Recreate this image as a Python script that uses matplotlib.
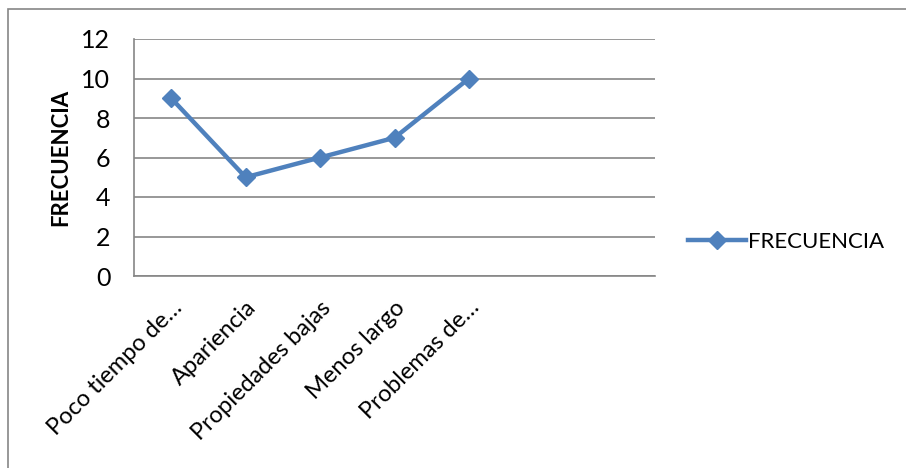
import numpy as np
import matplotlib.pyplot as plt
from matplotlib.patches import Rectangle

plt.rcParams['font.family'] = ['Lato', 'DejaVu Sans']

# Category labels (last two slots are empty in the source sheet)
categorias = ['Poco tiempo de…', 'Apariencia', 'Propiedades bajas',
              'Menos largo', 'Problemas de…', '', '']
frecuencia = [9, 5, 6, 7, 10, np.nan, np.nan]
y_ticks = [0, 2, 4, 6, 8, 10, 12]

azul = '#4F81BD'
gris = '#868686'

fig = plt.figure(figsize=(9.06, 4.68), dpi=100)
ax = fig.add_axes([134 / 906, 1 - 276 / 468, (655 - 134) / 906, (276 - 39) / 468])

x = np.arange(len(categorias))
ax.plot(x, frecuencia, color=azul, lw=3.2, marker='D', markersize=9,
        label='FRECUENCIA', zorder=3)

ax.set_xlim(-0.5, len(categorias) - 0.5)
ax.set_ylim(0, 12)
ax.set_yticks(y_ticks)
ax.set_xticks(x)
ax.set_xticklabels(categorias, rotation=45, ha='right', rotation_mode='anchor',
                   fontsize=17)
ax.tick_params(axis='y', labelsize=18, length=0, pad=17)
ax.tick_params(axis='x', length=0, pad=15)

ax.yaxis.grid(True, color=gris, lw=1.2)
ax.set_axisbelow(True)
for s in ['top', 'right']:
    ax.spines[s].set_visible(False)
for s in ['left', 'bottom']:
    ax.spines[s].set_color(gris)
    ax.spines[s].set_linewidth(1.2)

ax.set_ylabel('FRECUENCIA', fontsize=16, fontweight='bold', labelpad=7)

ax.legend(loc='center left', bbox_to_anchor=(1.025, 0.145), frameon=False,
          fontsize=16, handlelength=2.6, handletextpad=0.1)

# outer chart border
fig.patches.append(Rectangle((8 / 906, -0.1), 1.2, 1 - 9 / 468 + 0.1,
                             transform=fig.transFigure, fill=False,
                             edgecolor=gris, lw=1.2))

fig.savefig('out.png', dpi=100)
